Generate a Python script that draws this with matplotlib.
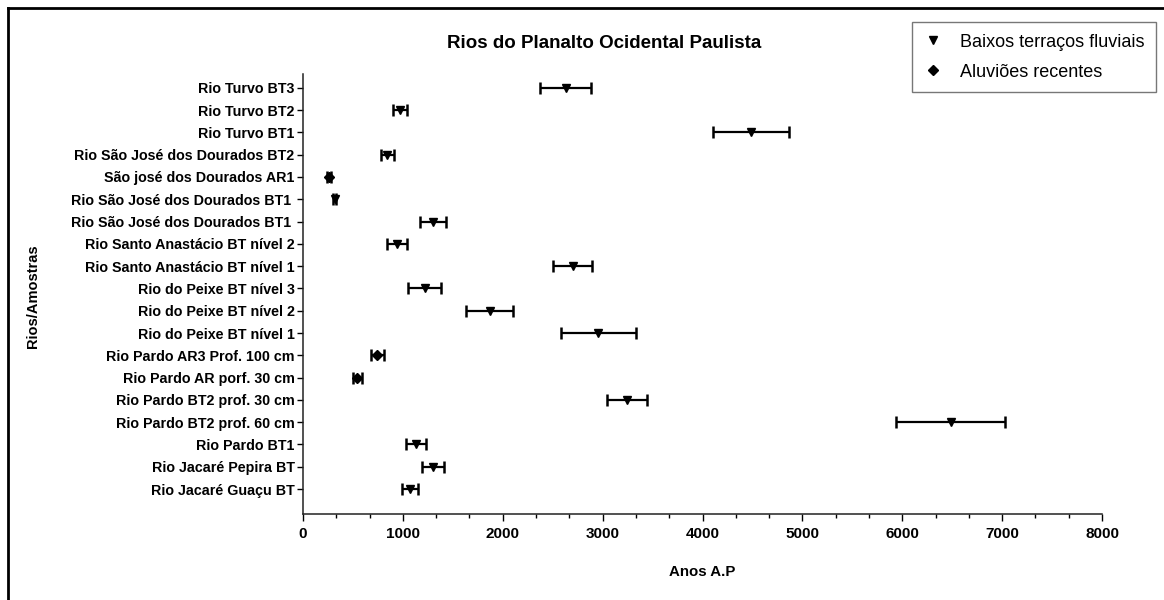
import matplotlib
matplotlib.use("Agg")
import matplotlib.pyplot as plt
from matplotlib.lines import Line2D
from matplotlib.ticker import MultipleLocator
import numpy as np

plt.rcParams['font.family'] = ['Liberation Sans', 'DejaVu Sans']

# ---- data (top to bottom) ----
labels = [
    "Rio Turvo BT3",
    "Rio Turvo BT2",
    "Rio Turvo BT1",
    "Rio São José dos Dourados BT2",
    "São josé dos Dourados AR1",
    "Rio São José dos Dourados BT1 ",
    "Rio São José dos Dourados BT1 ",
    "Rio Santo Anastácio BT nível 2",
    "Rio Santo Anastácio BT nível 1",
    "Rio do Peixe BT nível 3",
    "Rio do Peixe BT nível 2",
    "Rio do Peixe BT nível 1",
    "Rio Pardo AR3 Prof. 100 cm",
    "Rio Pardo AR porf. 30 cm",
    "Rio Pardo BT2 prof. 30 cm",
    "Rio Pardo BT2 prof. 60 cm",
    "Rio Pardo BT1",
    "Rio Jacaré Pepira BT",
    "Rio Jacaré Guaçu BT",
]
ages = [2630, 968, 4486, 845, 257, 317, 1302, 943, 2700, 1218, 1868, 2957,
        745, 545, 3245, 6484, 1130, 1300, 1073]
errors = [255, 70, 377, 68, 20, 15, 128, 100, 198, 162, 232, 377,
          62, 47, 200, 547, 102, 112, 77]
kinds = ["BT", "BT", "BT", "BT", "AR", "BT", "BT", "BT", "BT", "BT", "BT", "BT",
         "AR", "AR", "BT", "BT", "BT", "BT", "BT"]

series_names = {"BT": "Baixos terraços fluviais", "AR": "Aluviões recentes"}
series_markers = {"BT": "v", "AR": "D"}
series_msize = {"BT": 5.8, "AR": 5.2}

title = "Rios do Planalto Ocidental Paulista"
xlabel = "Anos A.P"
ylabel = "Rios/Amostras"

W, H = 1164, 600
fig = plt.figure(figsize=(W / 100, H / 100), dpi=100)
ax = fig.add_axes([303 / W, 1 - 514 / H, (1102 - 303) / W, (514 - 74) / H])

ypos = np.arange(len(labels))
ages_a = np.array(ages, dtype=float)
err_a = np.array(errors, dtype=float)
kinds_a = np.array(kinds)

ax.errorbar(ages_a, ypos, xerr=err_a, fmt='none', ecolor='black',
            elinewidth=1.6, capsize=4.0, capthick=1.8, zorder=2)

handles = []
for k in ["BT", "AR"]:
    m = kinds_a == k
    ax.plot(ages_a[m], ypos[m], linestyle='none', marker=series_markers[k],
            color='black', markersize=series_msize[k], zorder=3)
    handles.append(Line2D([], [], linestyle='none', marker=series_markers[k],
                          color='black', markersize=series_msize[k],
                          label=series_names[k]))

ax.set_xlim(0, 8000)
ax.set_ylim(len(labels) - 1 + 1.12, -0.62)
ax.xaxis.set_major_locator(MultipleLocator(1000))
ax.xaxis.set_minor_locator(MultipleLocator(1000 / 3))
ax.set_yticks(ypos)
ax.set_yticklabels(labels)

for s in ['top', 'right']:
    ax.spines[s].set_visible(False)
for s in ['left', 'bottom']:
    ax.spines[s].set_linewidth(1.1)
    ax.spines[s].set_color('#222222')

ax.tick_params(axis='y', direction='out', length=4, width=1, pad=2,
               labelsize=10.3)
ax.tick_params(axis='x', which='major', direction='out', length=5, width=1,
               pad=4, labelsize=11)
ax.tick_params(axis='x', which='minor', direction='out', length=3, width=1)
for t in ax.get_yticklabels() + ax.get_xticklabels():
    t.set_fontweight('bold')

ax.set_xlabel(xlabel, fontsize=10.8, fontweight='bold', va='center')
ax.xaxis.set_label_coords(0.5, (514 - 572) / 440)
ax.set_ylabel(ylabel, fontsize=10.5, fontweight='bold', va='center', ha='center')
ax.yaxis.set_label_coords((33 - 303) / 799, (514 - 296) / 440)

fig.text(604 / W, 1 - 44 / H, title, ha='center', va='center',
         fontsize=13.5, fontweight='bold')

leg = fig.legend(handles=handles, loc='upper right',
                 bbox_to_anchor=(1156 / W, 1 - 22 / H), fontsize=13,
                 frameon=True, fancybox=False, handlelength=1.0,
                 handletextpad=1.0, labelspacing=0.72, borderpad=0.65,
                 borderaxespad=0)
leg.get_frame().set_edgecolor('#555555')
leg.get_frame().set_linewidth(1.0)

# outer frame (left and top edges visible)
fig.add_artist(Line2D([8 / W, 8 / W], [0, 1 - 8 / H], transform=fig.transFigure,
                      color='black', linewidth=2.0))
fig.add_artist(Line2D([8 / W, 1], [1 - 8 / H, 1 - 8 / H], transform=fig.transFigure,
                      color='black', linewidth=2.0))

fig.savefig("out.png", dpi=100)
